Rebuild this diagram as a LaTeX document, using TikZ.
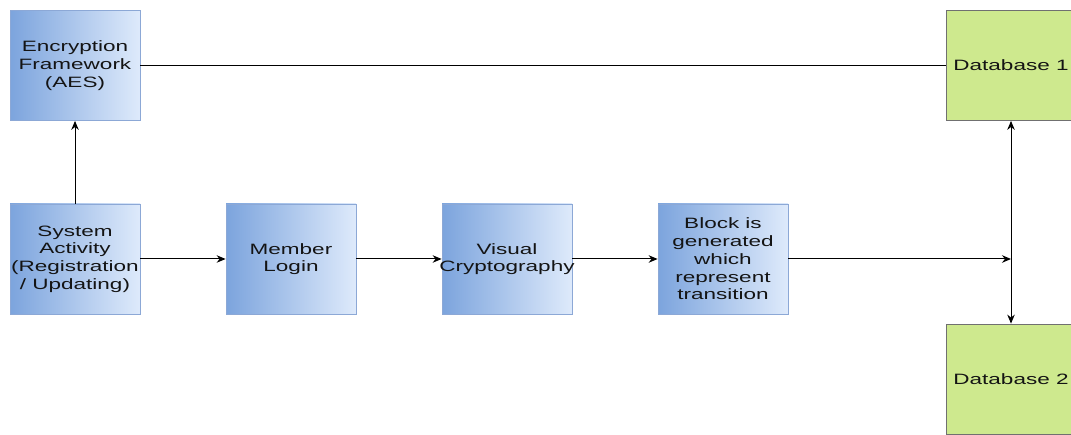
\documentclass[tikz,border=0pt]{standalone}
\usepackage{fontspec}
\setmainfont{Liberation Sans}[FakeStretch=1.5]
\usetikzlibrary{arrows.meta}
\definecolor{boxdark}{RGB}{124,164,221}
\definecolor{boxlight}{RGB}{222,234,251}
\definecolor{boxedge}{RGB}{140,168,214}
\definecolor{dbfill}{RGB}{206,233,142}
\definecolor{dbedge}{RGB}{112,112,112}
\definecolor{txt}{RGB}{20,20,20}
\tikzset{
  procbox/.style={draw=boxedge, line width=0.8pt, left color=boxdark, right color=boxlight,
    minimum width=130pt, minimum height=110pt, inner sep=0pt, align=center,
    text=txt, font=\fontsize{15pt}{17.7pt}\selectfont},
  dbbox/.style={draw=dbedge, line width=0.8pt, fill=dbfill,
    minimum width=130pt, minimum height=110pt, inner sep=0pt, align=center,
    text=txt, font=\fontsize{15pt}{17.7pt}\selectfont},
  link/.style={draw=black, line width=1pt},
  arr/.style={link, -{Stealth[length=9pt,width=7.5pt]}},
  biarr/.style={link, {Stealth[length=9pt,width=7.5pt]}-{Stealth[length=9pt,width=7.5pt]}}
}
\begin{document}
\begin{tikzpicture}[x=1pt,y=-1pt]
\useasboundingbox (0,0) rectangle (1071,435);
\clip (0,0) rectangle (1071,435);

% process boxes
\node[procbox] (enc) at (75,65.5) {Encryption\\Framework\\(AES)};
\node[procbox] (sys) at (75,259) {System\\Activity\\(Registration\\/ Updating)};
\node[procbox] (login) at (291,259) {Member\\Login};
\node[procbox] (vis) at (507,259) {Visual\\\makebox[0pt][c]{Cryptography}};
\node[procbox] (blk) at (723,259) {Block is\\generated\\which\\represent\\transition};

% databases
\node[dbbox] (db1) at (1011,65.5) {Database 1};
\node[dbbox] (db2) at (1011,379) {Database 2};

% junction on the database link
\coordinate (j) at (db1.south |- blk.east);

% connectors
\draw[link] (enc.east) -- (db1.west);
\draw[arr] (sys.north) -- (enc.south);
\draw[arr] (sys.east) -- (login.west);
\draw[arr] (login.east) -- (vis.west);
\draw[arr] (vis.east) -- (blk.west);
\draw[arr] (blk.east) -- (j);
\draw[biarr] (db1.south) -- (db2.north);
\end{tikzpicture}
\end{document}
